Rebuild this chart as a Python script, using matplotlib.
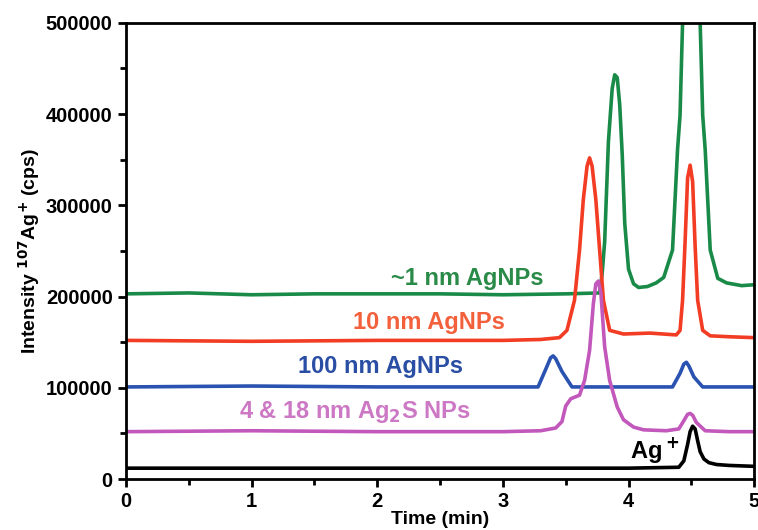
import numpy as np
import matplotlib
matplotlib.use("Agg")
import matplotlib.pyplot as plt
from matplotlib.ticker import MultipleLocator

plt.rcParams['font.family'] = ['Liberation Sans', 'DejaVu Sans']
plt.rcParams['font.weight'] = 'bold'

# --- traces (time in min, intensity in cps) ---
t_ag = [0, 1, 2, 3, 4, 4.40, 4.44, 4.47, 4.49, 4.51, 4.53, 4.55, 4.57,
        4.60, 4.64, 4.70, 4.8, 5.0]
i_ag = [12000, 12000, 12000, 12000, 12000, 13000, 20000, 38000, 52000,
        58000, 55000, 42000, 30000, 22000, 18000, 16000, 15000, 14000]

t_ag2s = [0, 1, 2, 3, 3.30, 3.42, 3.47, 3.50, 3.54, 3.61, 3.65, 3.69, 3.72,
          3.74, 3.76, 3.78, 3.81, 3.85, 3.91, 3.96, 4.04, 4.12, 4.30, 4.40,
          4.44, 4.47, 4.49, 4.51, 4.54, 4.61, 4.8, 5.0]
i_ag2s = [52000, 53000, 52000, 52000, 53000, 56000, 63000, 80000, 88000,
          92000, 108000, 141000, 192000, 214000, 217000, 204000, 145000,
          108000, 79000, 65000, 57000, 54000, 53000, 55000, 64000, 71000,
          72000, 70000, 62000, 53000, 52000, 52000]

t_100 = [0, 1, 2, 3, 3.28, 3.34, 3.38, 3.40, 3.42, 3.47, 3.55, 4.0, 4.35,
         4.41, 4.44, 4.46, 4.48, 4.52, 4.59, 5.0]
i_100 = [101000, 102000, 101000, 101000, 101000, 120000, 133000, 135000,
         132000, 118000, 101000, 101000, 101000, 116000, 126000, 128000,
         124000, 112000, 101000, 101000]

t_10 = [0, 1, 2, 3, 3.30, 3.45, 3.51, 3.57, 3.61, 3.64, 3.67, 3.69, 3.71,
        3.74, 3.77, 3.80, 3.85, 3.96, 4.17, 4.38, 4.41, 4.43, 4.45, 4.47,
        4.49, 4.51, 4.53, 4.55, 4.59, 4.65, 4.8, 5.0]
i_10 = [152000, 151000, 152000, 152000, 153000, 155000, 163000, 196000,
        251000, 306000, 343000, 352000, 343000, 306000, 251000, 196000,
        163000, 159000, 160000, 158000, 163000, 196000, 260000, 330000,
        344000, 326000, 255000, 196000, 163000, 157000, 156000, 155000]

t_1 = [0, 0.5, 1, 1.5, 2, 2.5, 3, 3.5, 3.77, 3.79, 3.81, 3.84, 3.87, 3.89,
       3.91, 3.93, 3.95, 3.97, 4.00, 4.04, 4.08, 4.15, 4.22, 4.28, 4.35,
       4.37, 4.39, 4.41, 4.43, 4.50, 4.57, 4.59, 4.61, 4.63, 4.65, 4.71,
       4.78, 4.90, 5.0]
i_1 = [203000, 204000, 202000, 203000, 203000, 203000, 202000, 203000,
       204000, 225000, 260000, 370000, 428000, 443000, 440000, 410000,
       355000, 280000, 230000, 214000, 210000, 211000, 215000, 221000,
       251000, 306000, 361000, 399000, 500000, 620000, 500000, 399000,
       361000, 306000, 251000, 220000, 215000, 212000, 213000]

labels = ["~1 nm AgNPs", "10 nm AgNPs", "100 nm AgNPs",
          "4 & 18 nm Ag$_2$S NPs", "Ag$^+$"]
label_t = [2.72, 2.41, 2.03, 1.82, 4.21]
label_i = [220000, 172000, 123000, 73500, 32000]

c_green, c_red, c_blue, c_mag = '#1a8a48', '#f23c24', '#2a52b0', '#c258bc'
txt_cols = ['#2a8a48', '#f2603c', '#2a4ea4', '#cc78c4', 'black']

fig = plt.figure(figsize=(7.58, 5.30), dpi=100)
ax = fig.add_axes([0.166, 0.096, 0.829, 0.861])

lw = 2.6
ax.plot(t_ag, i_ag, color='black', lw=lw)
ax.plot(t_1, i_1, color=c_green, lw=lw)
ax.plot(t_10, i_10, color=c_red, lw=lw)
ax.plot(t_100, i_100, color=c_blue, lw=lw)
ax.plot(t_ag2s, i_ag2s, color=c_mag, lw=lw)

for lab, x, y, c in zip(labels, label_t, label_i, txt_cols):
    ax.text(x, y, lab, color=c, fontsize=17, fontweight='bold',
            ha='center', va='center')

ax.set_xlim(0, 5)
ax.set_ylim(0, 500000)
ax.xaxis.set_major_locator(MultipleLocator(1))
ax.xaxis.set_minor_locator(MultipleLocator(0.5))
ax.yaxis.set_major_locator(MultipleLocator(100000))
ax.yaxis.set_minor_locator(MultipleLocator(50000))
ax.tick_params(which='major', direction='out', length=6, width=2,
               labelsize=14.5, top=False, right=False)
ax.tick_params(which='minor', direction='out', length=4, width=2,
               top=False, right=False)
for s in ax.spines.values():
    s.set_linewidth(2)

ax.set_xlabel("Time (min)", fontsize=14, fontweight='bold', labelpad=0)
ax.set_ylabel("Intensity $^{\\mathbf{107}}$Ag$^{\\mathbf{+}}$ (cps)",
              fontsize=14, fontweight='bold', labelpad=3)

fig.savefig("out.png", dpi=100)
